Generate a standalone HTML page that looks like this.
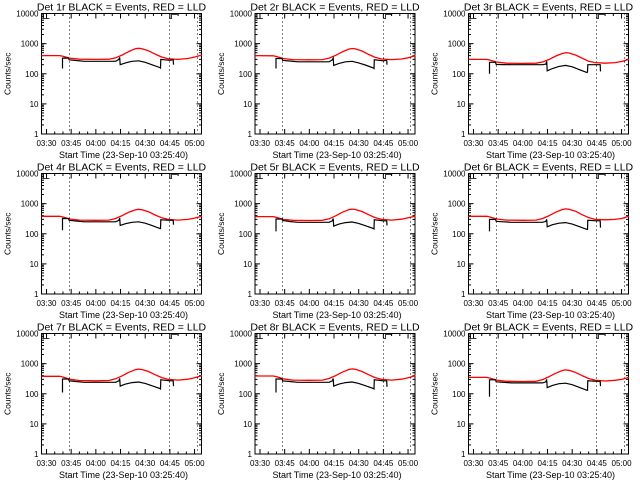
<!DOCTYPE html>
<html><head><meta charset="utf-8"><style>
html,body{margin:0;padding:0;background:#fff}
svg{display:block}
text{font-family:"Liberation Sans",sans-serif;fill:#000}
</style></head><body>
<svg id="chart" width="640" height="480" viewBox="0 0 640 480" xmlns="http://www.w3.org/2000/svg">
<rect width="640" height="480" fill="#fff"/>
</svg>
<script>
const detNames = ["1r","2r","3r","4r","5r","6r","7r","8r","9r"];
const xTickMin = [0,15,30,45,60,75,90];
const xTickLabels = ["03:30","03:45","04:00","04:15","04:30","04:45","05:00"];
const yTickVals = [1,10,100,1000,10000];
const yTickLabels = ["1","10","100","1000","10000"];
const markerMin = [13.5, 74.5, 91.3];
const redT = [-3,8,10,14,20,30,38,42,46,50,54,56,58,62,66,70,74,80,86,90,94.5];
const redV1 = [400,400,380,330,305,300,305,340,420,550,680,700,680,580,450,360,315,300,320,360,420];
const redV2 = [400,395,375,320,295,290,295,330,410,530,660,690,670,570,440,350,310,295,310,340,400];
const redV3 = [300,300,285,245,225,220,225,245,300,390,470,500,490,420,330,260,235,225,235,255,300];
const redV4 = [380,380,360,310,285,280,285,320,400,520,620,650,630,540,420,340,300,285,300,330,380];
const redV5 = [370,370,350,300,280,275,280,315,395,515,630,660,640,550,430,345,300,285,305,340,385];
const redV6 = [380,380,360,310,285,280,285,320,400,520,640,670,650,560,430,345,300,290,300,320,380];
const redV7 = [380,380,360,305,275,270,275,315,395,515,630,660,640,550,430,345,300,285,305,340,400];
const redV8 = [390,390,370,315,285,280,285,320,400,520,640,670,650,550,430,345,300,285,305,340,400];
const redV9 = [350,350,330,285,260,255,260,295,370,480,590,620,600,510,400,320,280,265,280,300,350];
const blkT = [9.7,9.7,13.4,13.8,18,23,42,44,44.5,44.8,48,52,56,60,64,69,69.3,69.5,75,77,77.2];
const blkV1 = [150,330,330,290,275,260,260,300,350,200,230,260,270,240,200,160,155,300,280,290,200];
const blkV2 = [150,320,320,280,265,250,250,290,330,190,220,250,260,230,195,155,150,290,270,280,200];
const blkV3 = [100,240,240,205,202,200,200,210,260,125,150,175,190,170,140,110,115,200,200,200,120];
const blkV4 = [130,320,320,280,265,250,250,280,330,190,215,240,250,225,190,150,150,290,280,280,200];
const blkV5 = [120,310,310,275,255,240,240,270,320,180,210,235,245,220,185,150,145,290,270,270,190];
const blkV6 = [120,300,300,260,250,240,240,260,300,170,200,225,235,210,175,140,140,280,270,270,160];
const blkV7 = [110,310,310,270,255,240,240,270,320,180,210,235,245,220,185,150,145,290,270,270,180];
const blkV8 = [110,310,310,270,255,240,240,270,320,180,210,235,245,220,185,150,145,290,270,270,170];
const blkV9 = [80,290,290,250,240,230,230,250,300,160,190,215,225,200,165,130,130,270,260,260,180];
const redSets = [redV1,redV2,redV3,redV4,redV5,redV6,redV7,redV8,redV9];
const blkSets = [blkV1,blkV2,blkV3,blkV4,blkV5,blkV6,blkV7,blkV8,blkV9];

const NS = "http://www.w3.org/2000/svg";
const svg = document.getElementById("chart");
function mk(tag, attrs, parent){
  const e = document.createElementNS(NS, tag);
  for (const k in attrs) e.setAttribute(k, attrs[k]);
  (parent||svg).appendChild(e);
  return e;
}
const PW = 160, PH = 120.5;
const T0 = -3.04, PXMIN = 1.645;

for (let p = 0; p < 9; p++) {
  const col = p % 3, row = Math.floor(p / 3);
  const L = 41.5 + col * 213.5, T = 13.5 + row * 160;
  const B = T + PH, R = L + PW;
  const xs = m => L + (m - T0) * PXMIN;
  const ys = v => B - 30.12 * Math.log10(v);
  const g = mk("g", {});
  
  

  const title = mk("text", {x: L + PW/2, y: T - 3, "text-anchor": "middle", "font-size": "10.5"}, g);
  title.textContent = "Det " + detNames[p] + " BLACK = Events, RED = LLD";
  
  

  const yl = mk("text", {x: 0, y: 0, "text-anchor": "middle", "font-size": "8.5", transform: "translate(" + (L - 31) + "," + (T + PH/2) + ") rotate(-90)"}, g);
  yl.textContent = "Counts/sec";
  
  

  const xl = mk("text", {x: L + PW/2 + 2, y: B + 24, "text-anchor": "middle", "font-size": "9"}, g);
  xl.textContent = "Start Time (23-Sep-10 03:25:40)";
  
  

  const box = mk("rect", {x: L, y: T, width: PW, height: PH, fill: "none", stroke: "#000", "stroke-width": 1}, g);
  
  

  for (let d = 0; d < yTickVals.length; d++) {
    const y = ys(yTickVals[d]);
    mk("line", {x1: L, x2: L + 5, y1: y, y2: y, stroke: "#000"}, g);
    mk("line", {x1: R, x2: R - 5, y1: y, y2: y, stroke: "#000"}, g);
    const t = mk("text", {x: L - 3, y: y + 3, "text-anchor": "end", "font-size": "8"}, g);
    t.textContent = yTickLabels[d];
    
    
    if (d < yTickVals.length - 1) {
      for (let k = 2; k < 10; k++) {
        const yy = ys(yTickVals[d] * k);
        mk("line", {x1: L, x2: L + 2.5, y1: yy, y2: yy, stroke: "#000"}, g);
        mk("line", {x1: R, x2: R - 2.5, y1: yy, y2: yy, stroke: "#000"}, g);
      }
    }
  }
  for (let i = 0; i < xTickMin.length; i++) {
    const x = xs(xTickMin[i]);
    mk("line", {x1: x, x2: x, y1: B, y2: B - 5, stroke: "#000"}, g);
    mk("line", {x1: x, x2: x, y1: T, y2: T + 5, stroke: "#000"}, g);
    const t = mk("text", {x: x, y: B + 12, "text-anchor": "middle", "font-size": "8"}, g);
    t.textContent = xTickLabels[i];
    
    
  }
  for (let m = 0; m <= 95; m += 5) {
    if (m % 15 === 0) continue;
    const x = xs(m);
    if (x > R) continue;
    mk("line", {x1: x, x2: x, y1: B, y2: B - 2.5, stroke: "#000"}, g);
    mk("line", {x1: x, x2: x, y1: T, y2: T + 2.5, stroke: "#000"}, g);
  }
  for (let i = 0; i < markerMin.length; i++) {
    const x = Math.round(xs(markerMin[i])) + 0.5;
    const ml = mk("line", {x1: x, x2: x, y1: T, y2: B, stroke: "#000", "stroke-dasharray": "1,3"}, g);
    
    
  }
  const b1 = mk("path", {d: "M" + (L+2) + "," + T + " V" + (T+5) + " H" + (L+8), fill: "none", stroke: "#000", "stroke-width": 0.8}, g);
  
  
  const xb = Math.round(xs(markerMin[1])) + 2.5;
  const b2 = mk("path", {d: "M" + (xb-2) + "," + (T+5) + " H" + xb + " V" + (T+1) + " H" + (xb+6), fill: "none", stroke: "#000", "stroke-width": 0.8}, g);
  
  

  const rv = redSets[p], bv = blkSets[p];
  const rp = redT.map((t, i) => xs(t).toFixed(1) + "," + ys(rv[i]).toFixed(1)).join(" ");
  const red = mk("polyline", {points: rp, fill: "none", stroke: "#ff0000", "stroke-width": 1.3, "stroke-linejoin": "round"}, g);
  
  
  const bp = blkT.map((t, i) => xs(t).toFixed(1) + "," + ys(bv[i]).toFixed(1)).join(" ");
  const blk = mk("polyline", {points: bp, fill: "none", stroke: "#000", "stroke-width": 1.2}, g);
  
  
}
</script>
</body></html>
